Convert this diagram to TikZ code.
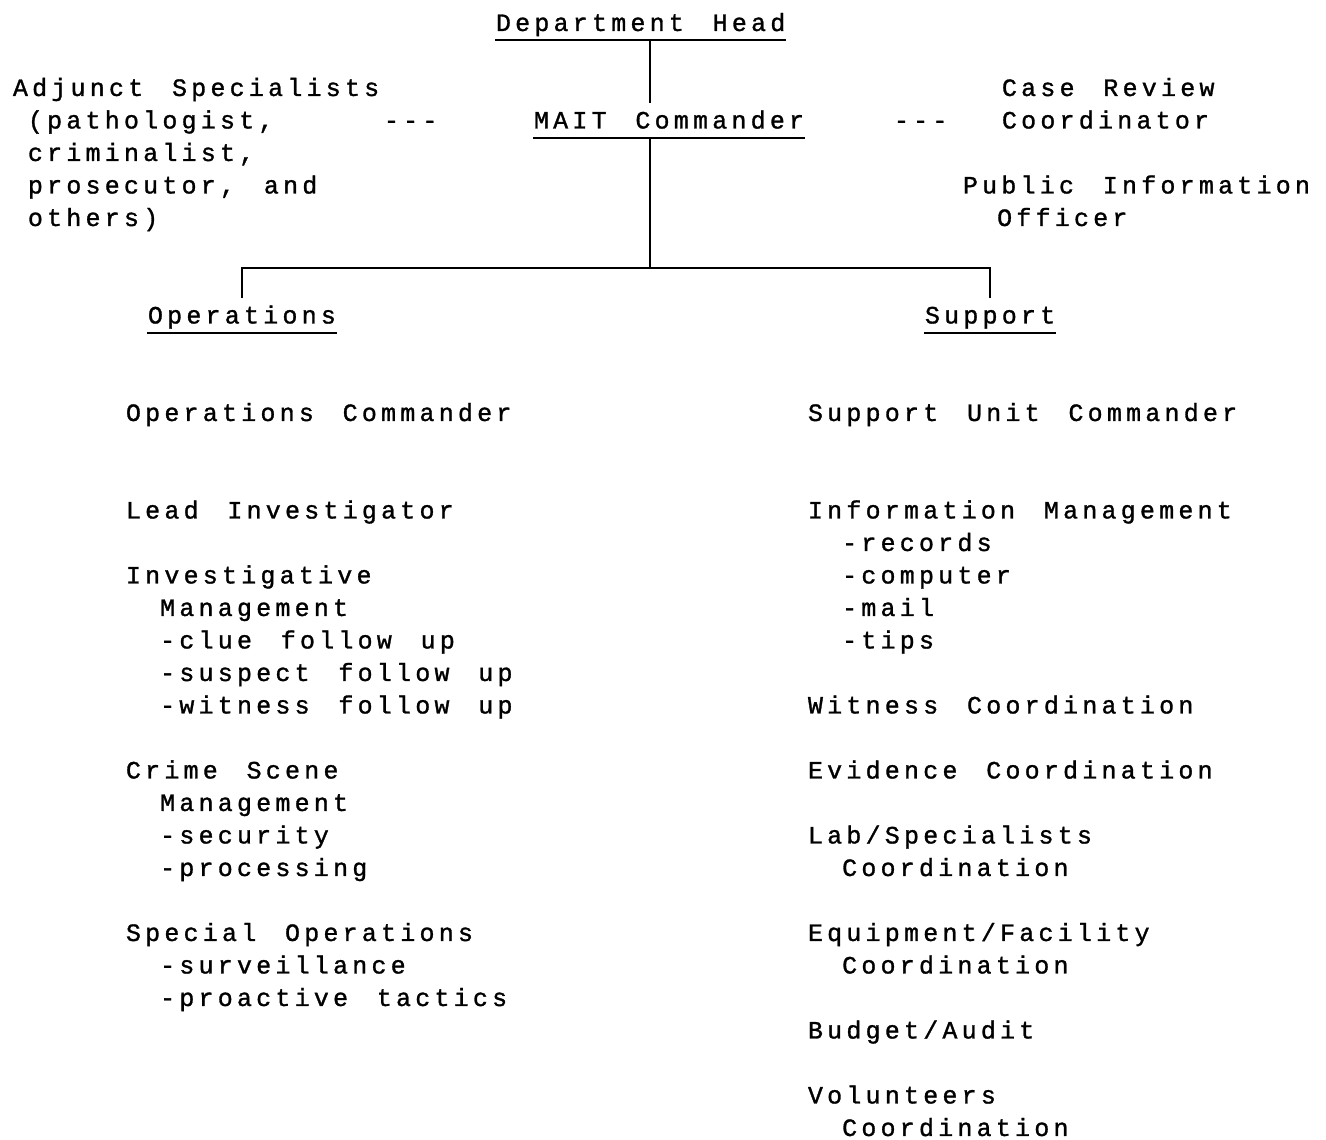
\documentclass[tikz,border=0pt]{standalone}
\usepackage{fontspec}
\setmonofont[LetterSpace=17,WordSpace=1.5,FakeBold=1.2]{Liberation Mono}

\newcommand\sk{\hphantom{x}}   % one column in
\newcommand\skk{\hphantom{xx}} % two columns in

\begin{document}
\begin{tikzpicture}[x=0.1mm,y=-0.1mm,line width=0.55pt,
    txt/.style={inner sep=0pt,anchor=base west,align=left,
      font=\ttfamily\fontsize{7.1pt}{9.25pt}\selectfont},
    head/.style={txt,text height=2.5mm,text depth=0.85mm}]
    \useasboundingbox (0,0) rectangle (1326,1140);

    % heads and the tree
    \node[head] (dept) at (495,31) {Department Head};
    \node[head] (mait) at (533,128.5) {MAIT Commander};
    \node[head] (ops) at (147,323.5) {Operations};
    \node[head] (sup) at (924,323.5) {Support};

    \draw (dept.south west) -- (dept.south east);
    \draw (mait.south west) -- (mait.south east);
    \draw (ops.south west) -- (ops.south east);
    \draw (sup.south west) -- (sup.south east);

    \coordinate (trunk) at (650,0);
    \coordinate (fork) at (650,268);
    \draw (dept.south -| trunk) -- (mait.north -| trunk);
    \draw (mait.south -| trunk) -- (fork);
    \draw (ops.north) |- (fork) -| (sup.north);

    % staff (multi-line nodes sit on their last line)
    \node[txt] (adj) at (12,226) {Adjunct Specialists\\ \sk(pathologist,\\ \sk criminalist,\\ \sk prosecutor, and\\ \sk others)};
    \node[txt] (dashl) at (383,128.5) {---};
    \node[txt] (dashr) at (893,128.5) {---};
    \node[txt] (review) at (1001,128.5) {Case Review\\Coordinator};
    \node[txt] (pio) at (962,226) {Public Information\\ \skk Officer};

    % operations side
    \node[txt] (opcmd) at (125,421) {Operations Commander};
    \node[txt] (lead) at (125,518.5) {Lead Investigator};
    \node[txt] (invest) at (125,713.5) {Investigative\\ \skk Management\\ \skk -clue follow up\\ \skk -suspect follow up\\ \skk -witness follow up};
    \node[txt] (scene) at (125,876) {Crime Scene\\ \skk Management\\ \skk -security\\ \skk -processing};
    \node[txt] (special) at (125,1006) {Special Operations\\ \skk -surveillance\\ \skk -proactive tactics};

    % support side
    \node[txt] (supcmd) at (807,421) {Support Unit Commander};
    \node[txt] (info) at (807,648.5) {Information Management\\ \skk -records\\ \skk -computer\\ \skk -mail\\ \skk -tips};
    \node[txt] (witness) at (807,713.5) {Witness Coordination};
    \node[txt] (evid) at (807,778.5) {Evidence Coordination};
    \node[txt] (lab) at (807,876) {Lab/Specialists\\ \skk Coordination};
    \node[txt] (equip) at (807,973.5) {Equipment/Facility\\ \skk Coordination};
    \node[txt] (budget) at (807,1038.5) {Budget/Audit};
    \node[txt] (vol) at (807,1136) {Volunteers\\ \skk Coordination};
\end{tikzpicture}
\end{document}
